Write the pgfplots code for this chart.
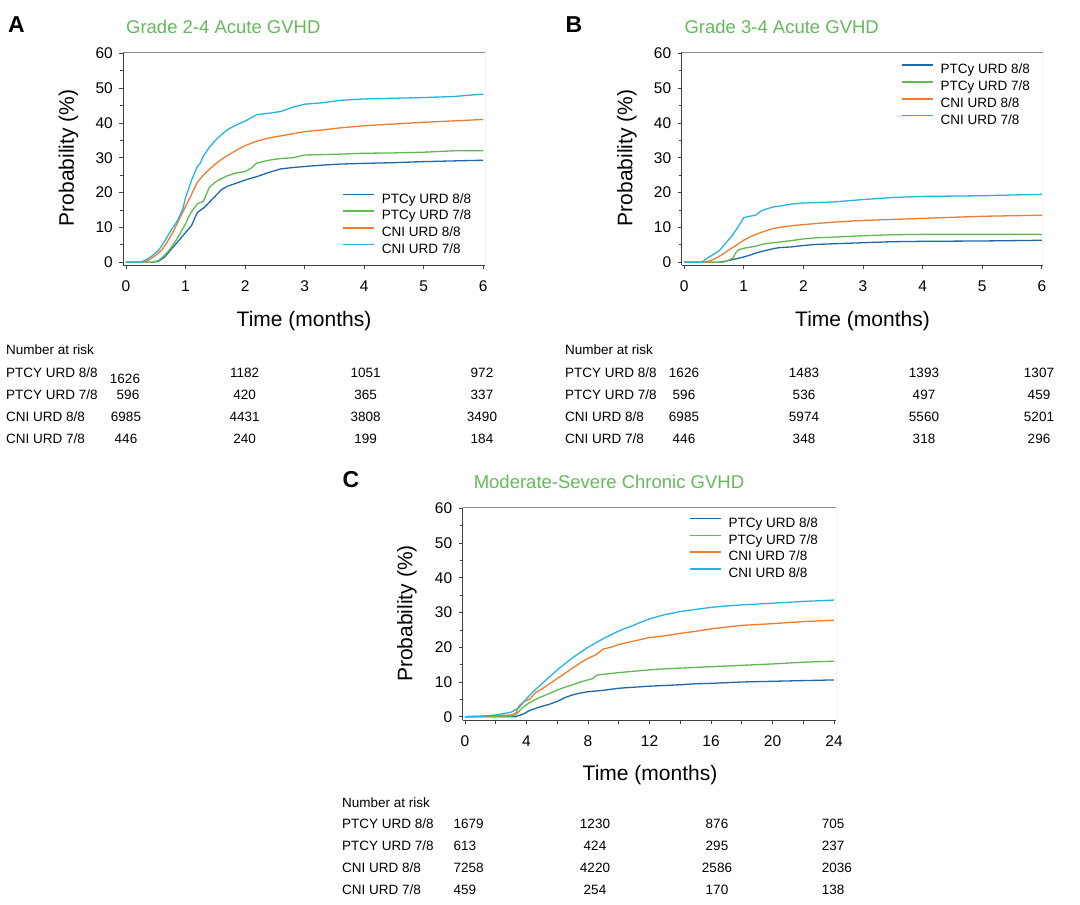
\documentclass[border=0pt]{standalone}
\usepackage{pgfplots}
\pgfplotsset{compat=1.18}
\usepackage{fontspec}
\setmainfont{Liberation Sans}
\definecolor{ptcyA}{RGB}{31,105,170}
\definecolor{ptcyB}{RGB}{95,185,80}
\definecolor{cniA}{RGB}{240,125,45}
\definecolor{cniB}{RGB}{35,180,225}
\definecolor{ttl}{RGB}{100,185,90}
\pgfplotsset{km/.style={
  scale only axis,
  axis x line*=bottom, axis y line*=left,
  axis line style={-, draw=black!75, line width=0.8pt},
  tick align=outside,
  major tick length=4pt, minor tick length=3pt,
  tick style={black!75, line width=0.7pt},
  ymin=-0.8, ymax=60.3, ytick={0,10,...,60}, minor y tick num=1,
  ticklabel style={font=\fontsize{15.5}{18}\selectfont},
  x tick label style={yshift=-8pt},
  y tick label style={xshift=-3pt},
  /pgf/number format/assume math mode=true,
  every axis plot/.append style={line width=1.3pt},
  legend cell align=left,
  legend style={anchor=north west, draw=none, fill=none, inner sep=0pt,
    font=\fontsize{13.5}{16}\selectfont, row sep=5.5pt,
    nodes={inner sep=0pt},
    /tikz/every odd column/.append style={column sep=7pt}},
}}
\newcommand{\frameTR}{\draw[black!45, line width=0.8pt] (rel axis cs:0,1) -- (rel axis cs:1,1) -- (rel axis cs:1,0);}
\newcommand{\fs}[1]{\fontsize{#1}{#1}\selectfont}
\begin{document}
\begin{tikzpicture}
\path[use as bounding box] (0pt,0pt) rectangle (1080pt,-905pt);
% ---------------- Panel A
\begin{axis}[km, at={(123.3pt,-265pt)}, anchor=south west, width=361.7pt, height=212.7pt,
  xmin=-0.045, xmax=6.03, xtick={0,...,6},
  legend image code/.code={\draw[#1, line width=1.5pt] (0pt,4.6pt) -- (31pt,4.6pt);},
  legend style={at={(0.605,0.338)}}]
\addplot[ptcyA] coordinates {(0,0)(0.45,0)(0.55,0.3)(0.65,1.5)(0.75,3.5)(0.85,5.5)(0.95,7.5)(1.0,8.5)(1.1,10.5)(1.15,12.5)(1.2,14.3)(1.3,15.5)(1.4,17.2)(1.5,19)(1.6,20.8)(1.7,21.8)(1.8,22.4)(1.9,23)(2.0,23.6)(2.2,24.6)(2.4,25.8)(2.6,26.8)(2.8,27.2)(3.0,27.5)(3.3,27.9)(3.6,28.2)(4.0,28.4)(4.5,28.6)(5.0,28.9)(5.5,29.1)(6.0,29.3)};
\addplot[ptcyB] coordinates {(0,0)(0.45,0)(0.55,0.5)(0.65,2)(0.75,4)(0.85,6.5)(0.95,9.5)(1.0,11)(1.05,13)(1.1,14.5)(1.2,16.8)(1.3,17.5)(1.35,19.5)(1.4,21.5)(1.5,23)(1.6,24)(1.7,24.8)(1.8,25.4)(1.9,25.8)(2.0,26)(2.1,27)(2.2,28.5)(2.4,29.3)(2.6,29.8)(2.8,30)(3.0,30.8)(3.5,31)(4.0,31.3)(4.5,31.4)(5.0,31.6)(5.5,32)(6.0,32)};
\addplot[cniA] coordinates {(0,0)(0.3,0)(0.4,0.8)(0.5,2)(0.6,3.5)(0.7,6)(0.8,9)(0.9,12.5)(1.0,16)(1.1,19.5)(1.2,23)(1.3,25)(1.4,26.7)(1.5,28.2)(1.6,29.5)(1.7,30.6)(1.8,31.6)(1.9,32.6)(2.0,33.5)(2.2,34.8)(2.4,35.7)(2.6,36.3)(2.8,36.9)(3.0,37.5)(3.3,38)(3.6,38.6)(4.0,39.2)(4.5,39.7)(5.0,40.2)(5.5,40.6)(6.0,41)};
\addplot[cniB] coordinates {(0,0)(0.25,0)(0.35,0.8)(0.45,2)(0.55,3.5)(0.65,6)(0.75,9)(0.85,11.5)(0.95,15)(1.0,18.5)(1.05,21)(1.1,23.5)(1.2,27.5)(1.25,28.5)(1.3,30.5)(1.4,33)(1.5,35)(1.6,36.6)(1.7,38)(1.8,39)(1.9,39.8)(2.0,40.5)(2.1,41.5)(2.2,42.4)(2.4,42.8)(2.6,43.3)(2.8,44.5)(3.0,45.4)(3.3,45.8)(3.6,46.5)(4.0,46.9)(4.5,47.1)(5.0,47.3)(5.5,47.6)(6.0,48.3)};
\legend{PTCy URD 8/8, PTCy URD 7/8, CNI URD 8/8, CNI URD 7/8}
\frameTR
\end{axis}
% ---------------- Panel B
\begin{axis}[km, at={(681.7pt,-265pt)}, anchor=south west, width=361.3pt, height=212.7pt,
  xmin=-0.04, xmax=6.02, xtick={0,...,6},
  legend image code/.code={\draw[#1, line width=1.5pt] (0pt,4.6pt) -- (31pt,4.6pt);},
  legend style={at={(0.607,0.945)}}]
\addplot[ptcyA] coordinates {(0,0)(0.6,0)(0.7,0.3)(0.8,0.7)(0.9,1.1)(1.0,1.5)(1.1,2)(1.2,2.6)(1.3,3.1)(1.4,3.5)(1.5,3.9)(1.6,4.2)(1.8,4.4)(2.0,4.8)(2.2,5.1)(2.5,5.3)(3.0,5.6)(3.5,5.9)(4.0,6.0)(5.0,6.1)(6.0,6.3)};
\addplot[ptcyB] coordinates {(0,0)(0.65,0)(0.75,0.6)(0.82,1.2)(0.87,2.8)(0.92,3.6)(1.0,4.0)(1.1,4.3)(1.2,4.6)(1.3,5.1)(1.4,5.4)(1.6,5.8)(1.8,6.2)(2.0,6.7)(2.2,7.0)(2.5,7.2)(3.0,7.6)(3.5,7.9)(4.0,8.0)(6.0,8.0)};
\addplot[cniA] coordinates {(0,0)(0.35,0)(0.45,0.5)(0.55,1.3)(0.65,2.3)(0.75,3.5)(0.85,4.6)(1.0,6.3)(1.1,7.2)(1.2,8.0)(1.3,8.6)(1.4,9.2)(1.5,9.7)(1.6,10.0)(1.8,10.5)(2.0,10.8)(2.2,11.1)(2.5,11.5)(3.0,12.0)(3.5,12.3)(4.0,12.6)(4.5,12.9)(5.0,13.2)(6.0,13.5)};
\addplot[cniB] coordinates {(0,0)(0.3,0)(0.4,1.3)(0.5,2.3)(0.6,3.5)(0.7,5.5)(0.8,7.5)(0.9,10)(1.0,12.8)(1.1,13.2)(1.2,13.5)(1.3,14.8)(1.4,15.4)(1.5,15.9)(1.6,16.1)(1.8,16.7)(2.0,17.0)(2.5,17.3)(3.0,18.0)(3.5,18.6)(4.0,18.9)(5.0,19.1)(5.5,19.3)(6.0,19.5)};
\legend{PTCy URD 8/8, PTCy URD 7/8, CNI URD 8/8, CNI URD 7/8}
\frameTR
\end{axis}
% ---------------- Panel C
\begin{axis}[km, at={(462.7pt,-720pt)}, anchor=south west, width=373.3pt, height=212.3pt,
  xmin=-0.15, xmax=24.13, xtick={0,2,...,24}, xticklabels={0,,4,,8,,12,,16,,20,,24},
  ymin=-0.95, ymax=60.2,
  legend image code/.code={\draw[#1, line width=1.5pt] (0pt,4.6pt) -- (31pt,4.6pt);},
  legend style={at={(0.606,0.955)}}]
\addplot[ptcyA] coordinates {(0,0)(3.3,0)(3.8,0.8)(4.2,1.8)(4.6,2.4)(5,3)(5.5,3.6)(6,4.4)(6.5,5.5)(7,6.3)(7.5,6.8)(8,7.2)(9,7.6)(10,8.2)(11,8.5)(12,8.8)(13,9)(14,9.2)(15,9.5)(16,9.6)(17,9.8)(18,10)(20,10.2)(22,10.4)(24,10.6)};
\addplot[ptcyB] coordinates {(0,0)(2,0.1)(3,0.2)(3.3,0.5)(3.6,2)(4,3.5)(4.5,4.8)(5,5.8)(5.5,6.7)(6,7.7)(6.5,8.5)(7,9.2)(7.5,10)(8,10.6)(8.3,11)(8.6,12)(9,12.2)(10,12.7)(11,13.1)(12,13.5)(13,13.8)(14,14.0)(15,14.2)(16,14.4)(18,14.8)(20,15.2)(22,15.7)(24,16)};
\addplot[cniA] coordinates {(0,0)(2,0.3)(3,0.5)(3.3,1)(3.5,3)(3.8,4.3)(4.2,5)(4.6,7)(5,8)(5.5,9.5)(6,11)(6.5,12.5)(7,14)(7.5,15.5)(8,16.8)(8.5,17.8)(9,19.5)(9.5,20)(10,20.8)(11,21.8)(12,22.8)(13,23.3)(14,24)(15,24.6)(16,25.3)(17,25.8)(18,26.3)(20,26.8)(22,27.4)(24,27.8)};
\addplot[cniB] coordinates {(0,0)(1,0.1)(2,0.5)(3,1.3)(3.5,2.6)(4,5.2)(4.5,7.5)(5,9.5)(5.5,11.5)(6,13.5)(7,17)(8,20)(9,22.5)(10,24.7)(11,26.4)(12,28.2)(13,29.4)(14,30.3)(15,30.9)(16,31.5)(17,31.9)(18,32.2)(20,32.7)(22,33.2)(24,33.6)};
\legend{PTCy URD 8/8, PTCy URD 7/8, CNI URD 7/8, CNI URD 8/8}
\frameTR
\end{axis}
% ---------------- Letters and titles
\node[font=\fs{23}\bfseries, inner sep=0pt] at (16.5pt,-25pt) {A};
\node[font=\fs{23}\bfseries, inner sep=0pt] at (574pt,-25pt) {B};
\node[font=\fs{23}\bfseries, inner sep=0pt] at (351pt,-480pt) {C};
\node[font=\fs{18.5}, text=ttl, inner sep=0pt] at (223.3pt,-27pt) {Grade 2-4 Acute GVHD};
\node[font=\fs{18.5}, text=ttl, inner sep=0pt] at (781.7pt,-27pt) {Grade 3-4 Acute GVHD};
\node[font=\fs{18.5}, text=ttl, inner sep=0pt] at (609pt,-482pt) {Moderate-Severe Chronic GVHD};
% ---------------- Axis labels
\node[font=\fs{21}, inner sep=0pt, rotate=90] at (68.5pt,-158pt) {Probability (\%)};
\node[font=\fs{21}, inner sep=0pt, rotate=90] at (627pt,-158pt) {Probability (\%)};
\node[font=\fs{21}, inner sep=0pt, rotate=90] at (407pt,-613.5pt) {Probability (\%)};
\node[font=\fs{21}, inner sep=0pt] at (304pt,-321pt) {Time (months)};
\node[font=\fs{21}, inner sep=0pt] at (862.5pt,-321pt) {Time (months)};
\node[font=\fs{21}, inner sep=0pt] at (650pt,-775pt) {Time (months)};
% ---------------- Number at risk A
\begin{scope}[every node/.style={font=\fs{13.5}, inner sep=0pt}]
\node[anchor=base west] at (6pt,-354.8pt) {Number at risk};
\node[anchor=base west] at (6pt,-377.8pt) {PTCY URD 8/8};
\node[anchor=base west] at (6pt,-399.8pt) {PTCY URD 7/8};
\node[anchor=base west] at (6pt,-421.8pt) {CNI URD 8/8};
\node[anchor=base west] at (6pt,-443.8pt) {CNI URD 7/8};
\node[anchor=base] at (125pt,-383pt) {1626};
\node[anchor=base] at (128pt,-399.8pt) {596};
\node[anchor=base] at (126pt,-421.8pt) {6985};
\node[anchor=base] at (126pt,-443.8pt) {446};
\node[anchor=base] at (244.7pt,-377.8pt) {1182};
\node[anchor=base] at (244.7pt,-399.8pt) {420};
\node[anchor=base] at (244.7pt,-421.8pt) {4431};
\node[anchor=base] at (244.7pt,-443.8pt) {240};
\node[anchor=base] at (365.7pt,-377.8pt) {1051};
\node[anchor=base] at (365.7pt,-399.8pt) {365};
\node[anchor=base] at (365.7pt,-421.8pt) {3808};
\node[anchor=base] at (365.7pt,-443.8pt) {199};
\node[anchor=base] at (482pt,-377.8pt) {972};
\node[anchor=base] at (482pt,-399.8pt) {337};
\node[anchor=base] at (482pt,-421.8pt) {3490};
\node[anchor=base] at (482pt,-443.8pt) {184};
% ---------------- Number at risk B
\node[anchor=base west] at (565pt,-354.8pt) {Number at risk};
\node[anchor=base west] at (565pt,-377.8pt) {PTCY URD 8/8};
\node[anchor=base west] at (565pt,-399.8pt) {PTCY URD 7/8};
\node[anchor=base west] at (565pt,-421.8pt) {CNI URD 8/8};
\node[anchor=base west] at (565pt,-443.8pt) {CNI URD 7/8};
\node[anchor=base] at (684pt,-377.8pt) {1626};
\node[anchor=base] at (684pt,-399.8pt) {596};
\node[anchor=base] at (684pt,-421.8pt) {6985};
\node[anchor=base] at (684pt,-443.8pt) {446};
\node[anchor=base] at (804pt,-377.8pt) {1483};
\node[anchor=base] at (804pt,-399.8pt) {536};
\node[anchor=base] at (804pt,-421.8pt) {5974};
\node[anchor=base] at (804pt,-443.8pt) {348};
\node[anchor=base] at (924pt,-377.8pt) {1393};
\node[anchor=base] at (924pt,-399.8pt) {497};
\node[anchor=base] at (924pt,-421.8pt) {5560};
\node[anchor=base] at (924pt,-443.8pt) {318};
\node[anchor=base] at (1039pt,-377.8pt) {1307};
\node[anchor=base] at (1039pt,-399.8pt) {459};
\node[anchor=base] at (1039pt,-421.8pt) {5201};
\node[anchor=base] at (1039pt,-443.8pt) {296};
% ---------------- Number at risk C
\node[anchor=base west] at (342pt,-807.8pt) {Number at risk};
\node[anchor=base west] at (342pt,-828.8pt) {PTCY URD 8/8};
\node[anchor=base west] at (342pt,-850.8pt) {PTCY URD 7/8};
\node[anchor=base west] at (342pt,-872.8pt) {CNI URD 8/8};
\node[anchor=base west] at (342pt,-894.8pt) {CNI URD 7/8};
\node[anchor=base west] at (453.3pt,-828.8pt) {1679};
\node[anchor=base west] at (453.3pt,-850.8pt) {613};
\node[anchor=base west] at (453.3pt,-872.8pt) {7258};
\node[anchor=base west] at (453.3pt,-894.8pt) {459};
\node[anchor=base] at (595pt,-828.8pt) {1230};
\node[anchor=base] at (595pt,-850.8pt) {424};
\node[anchor=base] at (595pt,-872.8pt) {4220};
\node[anchor=base] at (595pt,-894.8pt) {254};
\node[anchor=base] at (717pt,-828.8pt) {876};
\node[anchor=base] at (717pt,-850.8pt) {295};
\node[anchor=base] at (717pt,-872.8pt) {2586};
\node[anchor=base] at (717pt,-894.8pt) {170};
\node[anchor=base west] at (821.7pt,-828.8pt) {705};
\node[anchor=base west] at (821.7pt,-850.8pt) {237};
\node[anchor=base west] at (821.7pt,-872.8pt) {2036};
\node[anchor=base west] at (821.7pt,-894.8pt) {138};
\end{scope}
\end{tikzpicture}
\end{document}
